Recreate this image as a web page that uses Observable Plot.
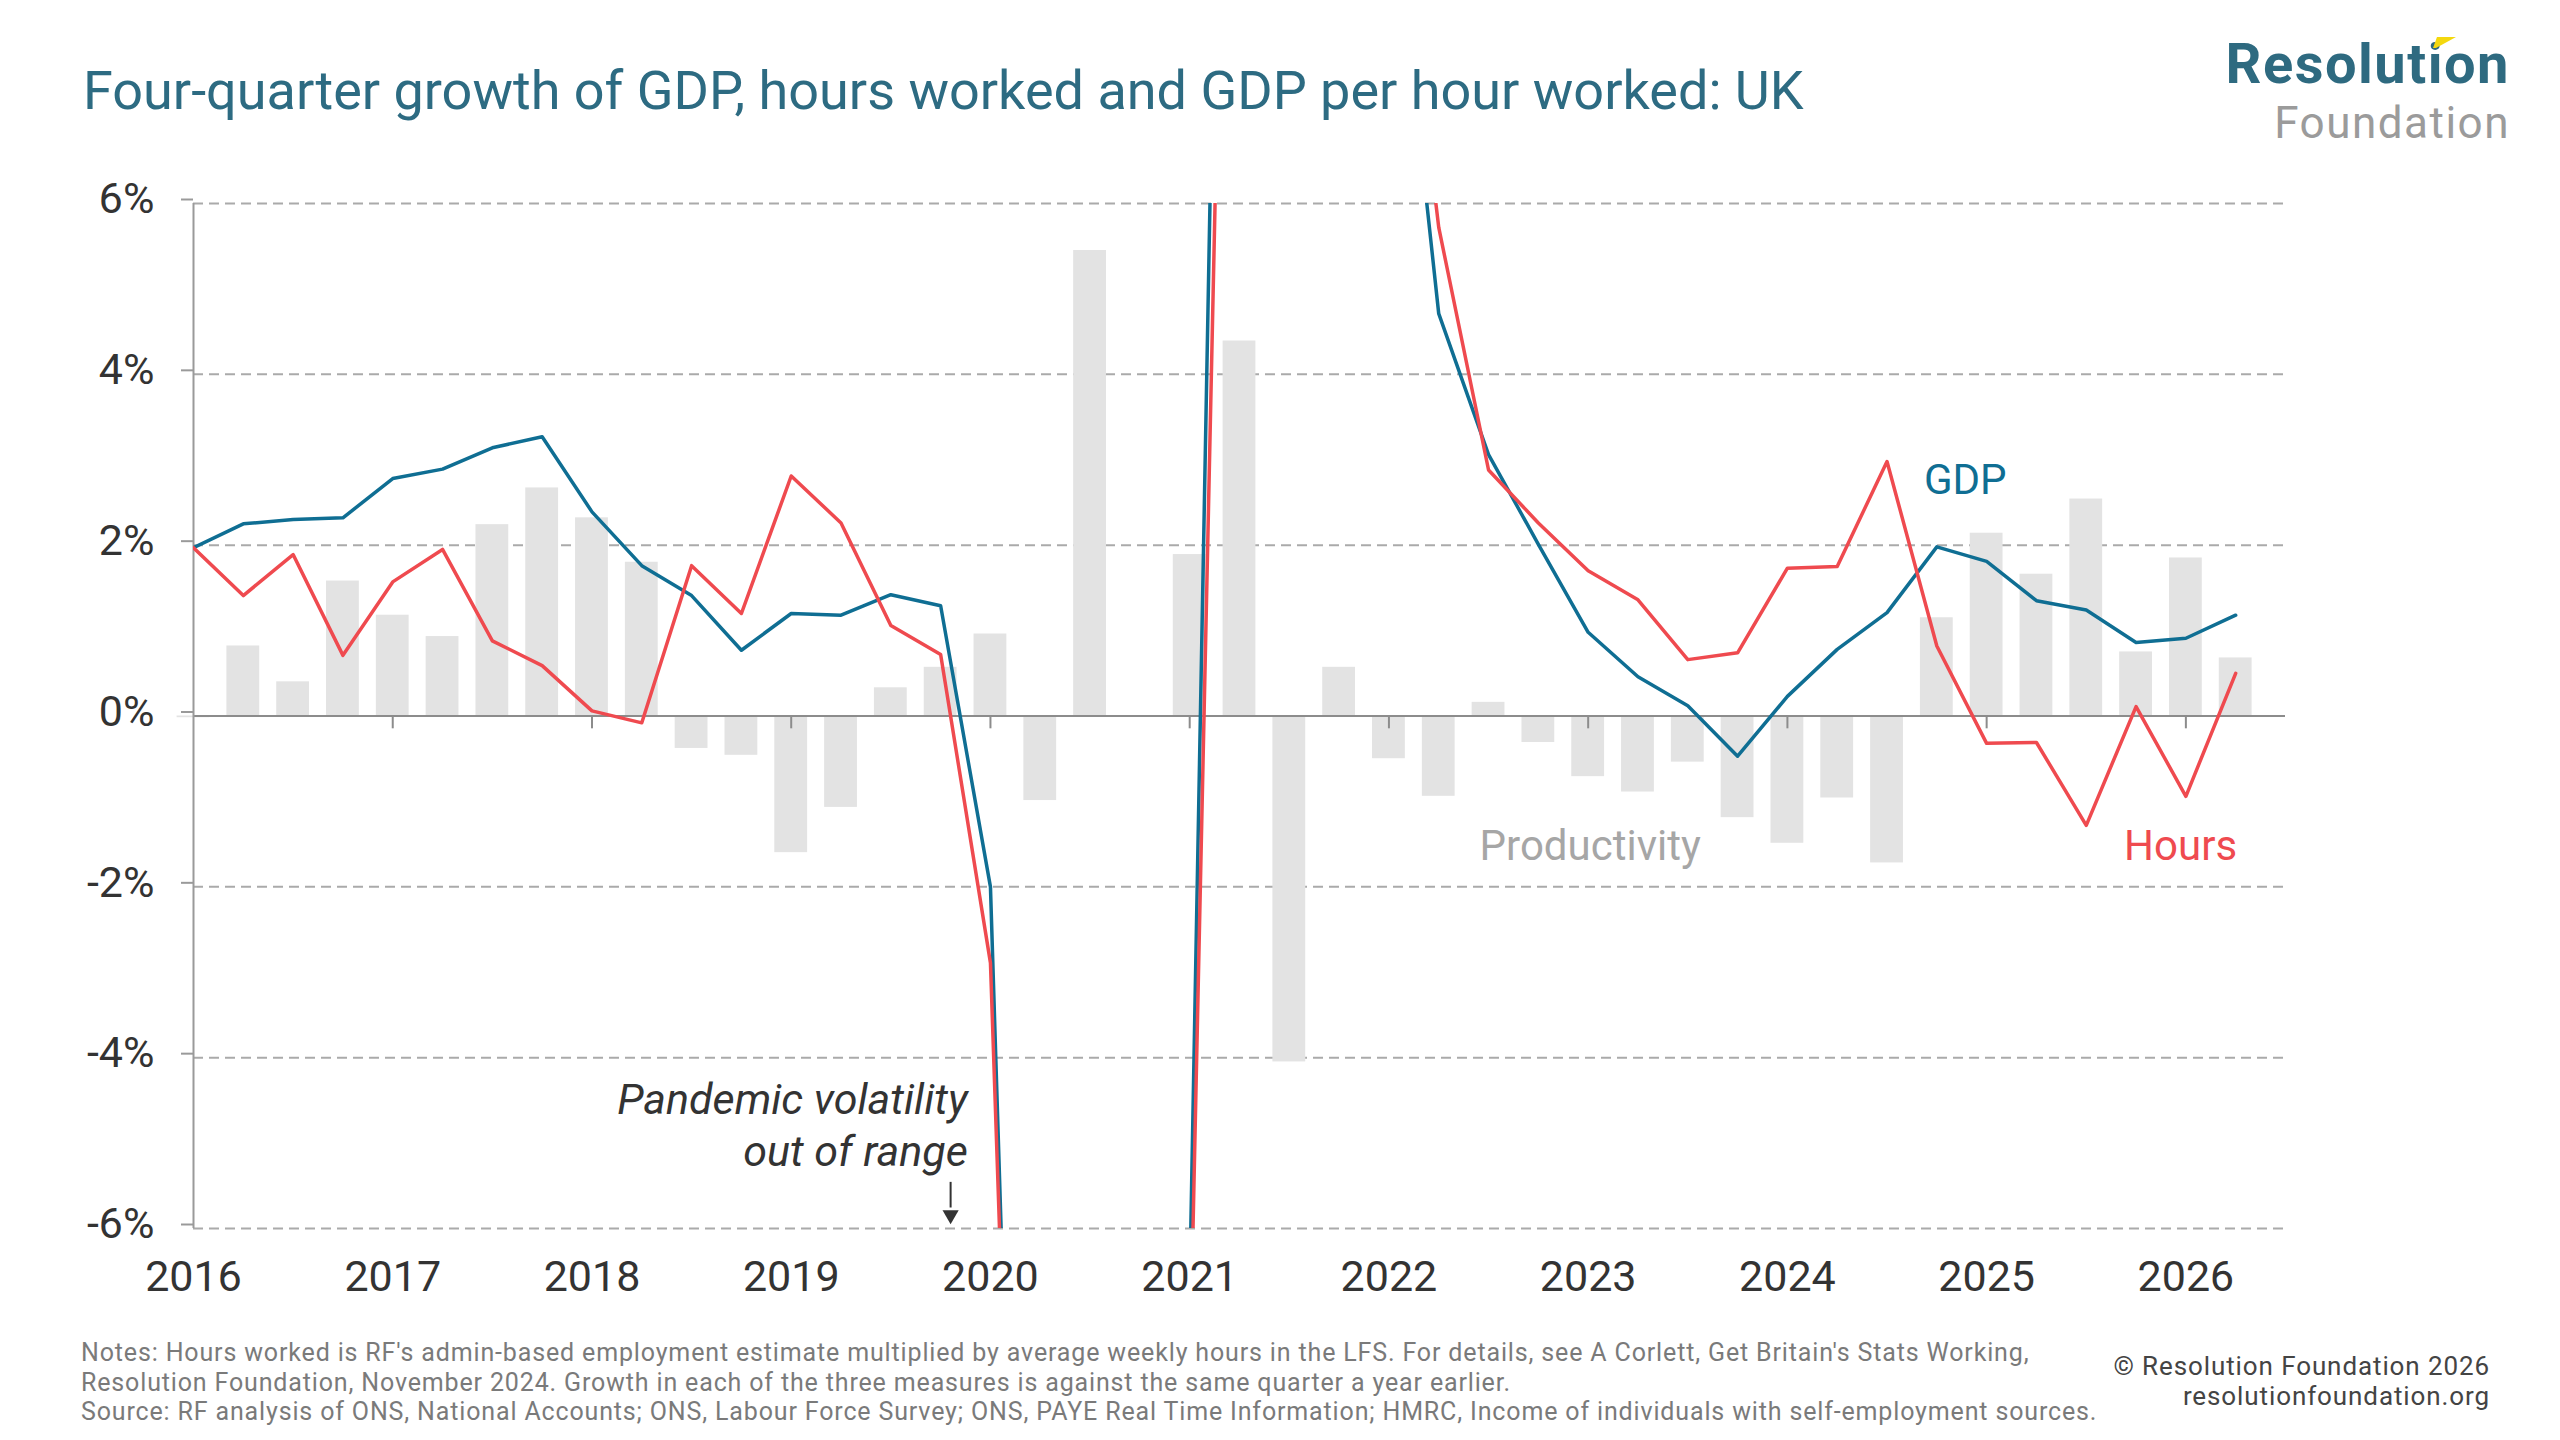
<!DOCTYPE html>
<html>
<head>
<meta charset="utf-8">
<script src="https://cdn.jsdelivr.net/npm/d3@7"></script>
<script src="https://cdn.jsdelivr.net/npm/@observablehq/plot@0.6"></script>
<style>
  html, body { margin: 0; padding: 0; background: #fff; }
  #wrap { position: relative; width: 2560px; height: 1440px; overflow: hidden; background: #fff; font-family: Roboto, "Noto Sans", sans-serif; }
  #chart { position: absolute; left: 0; top: 0; }
  .abs { position: absolute; white-space: nowrap; }
  #title { left: 83px; top: 64px; font-size: 54px; line-height: 54px; color: #2d6b82; }
  #logo1 { right: 50px; top: 36px; font-size: 56px; line-height: 56px; font-weight: 700; color: #2e6a80; letter-spacing: 1.5px; }
  #logo2 { right: 50px; top: 101px; font-size: 44px; line-height: 44px; color: #9b9b9b; letter-spacing: 1.5px; }
  #mark { left: 2430px; top: 36px; }
  .note { left: 81px; font-size: 25px; line-height: 26px; color: #7a7a7a; letter-spacing: 0.85px; }
  #n1 { top: 1340px; }
  #n2 { top: 1369.5px; }
  #n3 { top: 1399px; }
  .copy { right: 70px; font-size: 26px; line-height: 28px; color: #444; text-align: right; letter-spacing: 0.9px; }
  #c1 { top: 1352px; }
  #c2 { top: 1382px; }
</style>
</head>
<body>
<div id="wrap">
  <div id="chart"></div>
  <div class="abs" id="title">Four-quarter growth of GDP, hours worked and GDP per hour worked: UK</div>
  <div class="abs" id="logo1">Resolution</div>
  <div class="abs" id="logo2">Foundation</div>
  <svg class="abs" id="mark" width="30" height="14"><polygon points="3,12 7,1 26,1 6,12" fill="#f4d80e"/></svg>
  <div class="abs note" id="n1">Notes: Hours worked is RF's admin-based employment estimate multiplied by average weekly hours in the LFS. For details, see A Corlett, Get Britain's Stats Working,</div>
  <div class="abs note" id="n2">Resolution Foundation, November 2024. Growth in each of the three measures is against the same quarter a year earlier.</div>
  <div class="abs note" id="n3">Source: RF analysis of ONS, National Accounts; ONS, Labour Force Survey; ONS, PAYE Real Time Information; HMRC, Income of individuals with self-employment sources.</div>
  <div class="abs copy" id="c1">© Resolution Foundation 2026</div>
  <div class="abs copy" id="c2">resolutionfoundation.org</div>
</div>
<script>
// ---- Data (four-quarter growth, %) ----
const periods = [
  "2016 Q1","2016 Q2","2016 Q3","2016 Q4",
  "2017 Q1","2017 Q2","2017 Q3","2017 Q4",
  "2018 Q1","2018 Q2","2018 Q3","2018 Q4",
  "2019 Q1","2019 Q2","2019 Q3","2019 Q4",
  "2020 Q1","2020 Q2","2020 Q3","2020 Q4",
  "2021 Q1","2021 Q2","2021 Q3","2021 Q4",
  "2022 Q1","2022 Q2","2022 Q3","2022 Q4",
  "2023 Q1","2023 Q2","2023 Q3","2023 Q4",
  "2024 Q1","2024 Q2","2024 Q3","2024 Q4",
  "2025 Q1","2025 Q2","2025 Q3","2025 Q4",
  "2026 Q1","2026 Q2"
];
const gdp = [
  1.97, 2.25, 2.30, 2.32,
  2.78, 2.89, 3.14, 3.27,
  2.39, 1.76, 1.41, 0.77,
  1.20, 1.18, 1.42, 1.29,
  -2.00, -20.7, -8.5, -7.3,
  -6.7, 24.5, 8.5, 9.0,
  10.1, 4.71, 3.06, 2.01,
  0.98, 0.46, 0.12, -0.47,
  0.23, 0.78, 1.21, 1.98,
  1.81, 1.35, 1.24, 0.86,
  0.91, 1.18
];
const hours = [
  1.97, 1.41, 1.89, 0.71,
  1.57, 1.95, 0.88, 0.59,
  0.06, -0.08, 1.76, 1.20,
  2.81, 2.26, 1.06, 0.72,
  -2.89, -20.0, -13.2, -9.5,
  -7.8, 19.3, 13.1, 8.4,
  10.6, 5.72, 2.88, 2.26,
  1.70, 1.36, 0.66, 0.74,
  1.73, 1.75, 2.98, 0.82,
  -0.32, -0.31, -1.28, 0.11,
  -0.94, 0.50
];
const productivity = [
  -0.02, 0.82, 0.40, 1.58,
  1.18, 0.93, 2.24, 2.67,
  2.32, 1.80, -0.38, -0.46,
  -1.60, -1.07, 0.33, 0.57,
  0.96, -0.99, 5.45, null,
  1.89, 4.39, -4.05, 0.57,
  -0.50, -0.94, 0.16, -0.31,
  -0.71, -0.89, -0.54, -1.19,
  -1.49, -0.96, -1.72, 1.15,
  2.14, 1.66, 2.54, 0.75,
  1.85, 0.68
];
const yearTicks = [2016, 2017, 2018, 2019, 2020, 2021, 2022, 2023, 2024, 2025, 2026];
const yTicks = [-6, -4, -2, 0, 2, 4, 6];
const gridValues = [-6, -4, -2, 2, 4, 6];

// annotation placement (data coordinates)
const seriesLabels = [
  {text: "GDP", x: 2024.685, y: 2.60, color: "#0f6e93", anchor: "start"},
  {text: "Productivity", x: 2022.455, y: -1.69, color: "#a6a6a6", anchor: "start"},
  {text: "Hours", x: 2026.257, y: -1.69, color: "#ef4a4f", anchor: "end"}
];
const pandemicNote = [{text: "Pandemic volatility\nout of range", x: 2019.886, y: -5.27}];
const pandemicArrow = [{x: 2019.80, y1: -5.46, y2: -5.76, yHead: -5.84}];

const COLORS = {gdp: "#0f6e93", hours: "#ef4a4f", bar: "#e3e3e3"};

const toT = p => +p.slice(0, 4) + (+p.slice(6) - 1) / 4;
const rows = periods.map((p, i) => ({
  period: p, t: toT(p), gdp: gdp[i], hours: hours[i], prod: productivity[i]
}));

const chart = Plot.plot({
  width: 2560,
  height: 1440,
  marginLeft: 193,
  marginRight: 275,
  marginTop: 203,
  marginBottom: 212,
  x: {type: "linear", domain: [2016, 2026.5]},
  y: {domain: [-6, 6]},
  style: {fontFamily: "Roboto, 'Noto Sans', sans-serif", fontSize: "43px", color: "#333", background: "transparent"},
  marks: [
    Plot.ruleY(gridValues, {stroke: "#aaaaaa", strokeWidth: 2, strokeDasharray: "10,6"}),
    Plot.rectY(rows.filter(d => d.prod != null), {
      x1: d => d.t - 0.125, x2: d => d.t + 0.125, y: "prod",
      fill: COLORS.bar, insetLeft: 8.5, insetRight: 8.5
    }),
    Plot.ruleY([0], {stroke: "#8c8c8c", strokeWidth: 2}),
    Plot.ruleX([2016], {stroke: "#9a9a9a", strokeWidth: 2}),
    Plot.ruleX(yearTicks.slice(1), {x: d => d, y1: 0, y2: -0.15, stroke: "#8c8c8c", strokeWidth: 2}),
    Plot.axisY(yTicks, {
      tickSize: 12, tickPadding: 27, tickFormat: d => `${d}%`,
      stroke: "#9a9a9a", strokeWidth: 2, fill: "#333", fontSize: 43, dy: -4, label: null
    }),
    Plot.axisX(yearTicks, {
      tickSize: 0, tickPadding: 32, tickFormat: d => String(d),
      fill: "#333", fontSize: 43, label: null
    }),
    Plot.line(rows, {x: "t", y: "gdp", stroke: COLORS.gdp, strokeWidth: 3.5, clip: true}),
    Plot.line(rows, {x: "t", y: "hours", stroke: COLORS.hours, strokeWidth: 3.5, clip: true}),
    Plot.text(seriesLabels.filter(d => d.anchor === "start"), {
      x: "x", y: "y", text: "text", fill: d => d.color, textAnchor: "start", lineAnchor: "bottom", fontSize: 42
    }),
    Plot.text(seriesLabels.filter(d => d.anchor === "end"), {
      x: "x", y: "y", text: "text", fill: d => d.color, textAnchor: "end", lineAnchor: "bottom", fontSize: 42
    }),
    Plot.text(pandemicNote, {
      x: "x", y: "y", text: "text", textAnchor: "end", lineAnchor: "bottom",
      lineHeight: 1.21, fontSize: 43, fontStyle: "italic", fill: "#333"
    }),
    Plot.ruleX(pandemicArrow, {x: "x", y1: "y1", y2: "y2", stroke: "#333", strokeWidth: 2}),
    Plot.dot(pandemicArrow, {x: "x", y: "yHead", symbol: "triangle", r: 6, rotate: 180, fill: "#333", stroke: "none"})
  ]
});
document.getElementById("chart").appendChild(chart);
</script>
</body>
</html>
